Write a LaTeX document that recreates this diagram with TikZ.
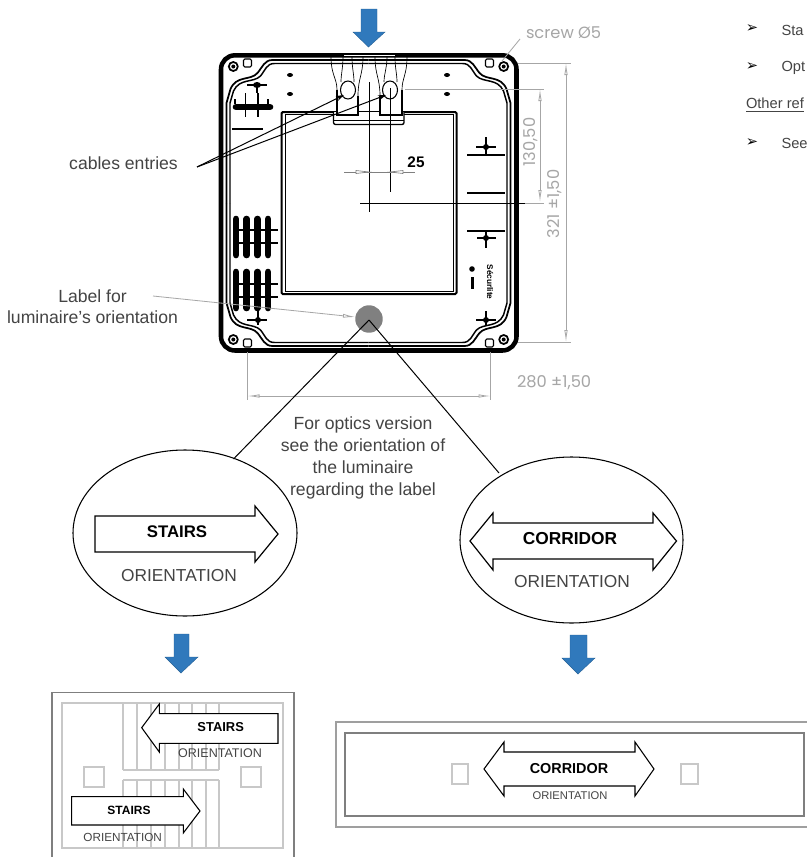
\documentclass[tikz,border=0pt]{standalone}
\usepackage{fontspec}
\setmainfont{Liberation Sans}
\newfontfamily\dimfont{Poppins}
\newfontfamily\symfont{DejaVu Sans}
\usetikzlibrary{arrows.meta,shapes.geometric}
\definecolor{bluearrow}{HTML}{3079BC}
\definecolor{dimgray}{HTML}{A6A6A6}
\definecolor{txtgray}{HTML}{444444}
\definecolor{planlight}{HTML}{C8C8C8}
\definecolor{framegray}{HTML}{7F7F7F}
\tikzset{
 every node/.style={inner sep=0pt,outer sep=0pt},
 lbl/.style={font=\fontsize{13.2}{16.5}\selectfont,text=txtgray,align=center},
 dimtxt/.style={font=\dimfont\fontsize{12.2}{14}\selectfont,text=dimgray},
 boldlbl/.style={font=\bfseries\fontsize{#1}{#1}\selectfont,text=black},
 orient/.style={font=\fontsize{#1}{#1}\selectfont,text=txtgray},
 dimline/.style={draw=dimgray,line width=0.6pt},
 dimarrow/.style={dimline,{Latex[open,length=9pt,width=2.6pt]}-{Latex[open,length=9pt,width=2.6pt]}},
 blackline/.style={draw=black,line width=0.75pt},
 orarrow/.style={draw=black,line width=0.9pt,fill=white,line join=miter},
 bluearr/.style={fill=bluearrow,draw=bluearrow!80!black,line width=0.3pt},
 planline/.style={draw=planlight,line width=1.4pt},
 slotbar/.style={line width=5pt,line cap=round,draw=black},
 tmark/.style={line width=1.8pt,draw=black},
 rightline/.style={font=\fontsize{11}{13}\selectfont,text=txtgray,anchor=west},
 bullet/.style={font=\symfont\fontsize{11}{12}\selectfont},
}
\begin{document}
\begin{tikzpicture}[x=0.75pt,y=-0.75pt]
\path[use as bounding box,clip] (0,0) rectangle (807,857);
\fill[white] (0,0) rectangle (807,857);

% top blue arrow
\fill[bluearr] (361,9) -- (377,9) -- (377,32) -- (385,32) -- (368.5,47) -- (353,32) -- (361,32) -- cycle;

% housing
\draw[line width=3.4pt,rounded corners=10.5pt] (221,55.3) rectangle (516.5,350.5);
\foreach \sx/\sy in {1/1,-1/1,1/-1,-1/-1}{
\begin{scope}[shift={(368.5,203)},xscale=\sx,yscale=\sy]
 \draw[line width=1.3pt] (0,-143) -- (-96,-143) .. controls (-104,-143) and (-106,-136) .. (-111,-130) .. controls (-118,-122) and (-132,-128) .. (-138,-114) -- (-142,-100) -- (-142,0);
 \draw[line width=1.1pt] (0,-139.5) -- (-94,-139.5) .. controls (-102,-139.5) and (-103,-133) .. (-108,-127) .. controls (-115,-120) and (-129,-125) .. (-135,-112) -- (-138.5,-100) -- (-138.5,0);
 \draw[line width=1.3pt,fill=white] (-135.2,-136.5) circle[radius=4.5];
 \fill (-135.2,-136.5) circle[radius=2];
 \draw[line width=0.8pt,rounded corners=1pt] (-125,-144) rectangle (-117,-136);
\end{scope}}
\fill[white] (344,54.5) rectangle (395,56);

% window
\draw[line width=1.5pt,rounded corners=1pt] (281.5,112) rectangle (456.5,294);
\draw[line width=0.5pt] (285,114) rectangle (453,291);
\draw[line width=1pt,fill=white,rounded corners=1.5pt] (333.5,112) -- (333.5,124.5) -- (404,124.5) -- (404,112);
\draw[line width=0.5pt] (334,120) -- (404,120);
\fill[white] (338,110) rectangle (357,119);
\fill[white] (381,110) rectangle (401,119);

% cable funnels and holes
\draw[line width=0.5pt] (331,57) .. controls (331,75) and (337,78) .. (337,90);
\draw[line width=0.5pt] (343,57) .. controls (343,68) and (341,74) .. (341,82);
\draw[line width=0.5pt] (352,57) .. controls (352,68) and (354,74) .. (354,82);
\draw[line width=0.5pt] (363,57) .. controls (363,75) and (358,78) .. (358,96);
\draw[line width=0.5pt] (375,57) .. controls (375,75) and (380,78) .. (380,96);
\draw[line width=0.5pt] (387,57) .. controls (387,68) and (384,74) .. (384,82);
\draw[line width=0.5pt] (395,57) .. controls (395,68) and (397,74) .. (397,82);
\draw[line width=0.5pt] (407,57) .. controls (407,75) and (402,78) .. (402,90);
\draw[line width=0.8pt] (337,90) -- (337,115) -- (358,115) -- (358,96);
\draw[line width=0.8pt] (380,96) -- (380,115) -- (402,115) -- (402,90);
\draw[line width=0.8pt] (348,90) ellipse[x radius=7.5,y radius=9];
\draw[line width=0.8pt] (390,90) ellipse[x radius=7.5,y radius=9];

% small oval dots
\foreach \px/\py in {290/75,290/94,447/75,447/94}
 \fill (\px,\py) ellipse[x radius=3,y radius=2];

% top-left marks
\draw[tmark] (247,85) -- (267,85);
\draw[tmark] (257,85) -- (257,93);
\fill (257,85) ellipse[x radius=4,y radius=3];
\draw[slotbar] (236,107) -- (270,107);
\draw[line width=1pt] (245.7,93) -- (245.7,117);
\draw[line width=1pt] (258,93) -- (258,117);
\draw[line width=1pt] (235,99) -- (235,104);
\draw[line width=1pt] (268,99) -- (268,104);
\draw[tmark] (232,129) -- (263,129);

% right marks
\draw[tmark] (476,147) -- (496,147);
\draw[tmark] (486,137) -- (486,155);
\fill (486,147) circle[radius=3];
\draw[line width=2.2pt] (467,155) -- (505,155);
\draw[line width=2.2pt] (467,193) -- (505,193);
\draw[line width=2.2pt] (467,231) -- (505,231);
\draw[tmark] (477,238) -- (496,238);
\draw[tmark] (486,231) -- (486,248);
\fill (486,238) circle[radius=3];
\draw[tmark] (476,320) -- (496,320);
\draw[tmark] (486,311) -- (486,325);
\fill (486,320) circle[radius=3];
\fill (472,269) circle[radius=2.8];
\fill (470.5,277) rectangle (473.5,289);
\node[rotate=-90,font=\bfseries\fontsize{6.2}{7}\selectfont] (brand) at (490,282) {Sécurlite};

% left slots
\foreach \oy/\oz in {219/255,272/308}{
 \foreach \ox in {236,246.7,257.3,268}
  \draw[slotbar] (\ox,\oy) -- (\ox,\oz);
}
\foreach \ly in {230,243,284,297}
 \draw[line width=0.9pt] (233,\ly) -- (278,\ly);
\draw[tmark] (247,320) -- (267,320);
\draw[tmark] (258,311) -- (258,325);
\fill (258,320) circle[radius=3];

% centre lines and 25 dimension
\draw[blackline] (369,82) -- (369,212);
\draw[blackline] (390,88) -- (390,192);
\draw[blackline] (360,203) -- (525,203);
\draw[dimline] (525,203) -- (544,203);
\coordinate (d25l) at (344,172);
\coordinate (d25r) at (415,172);
\draw[dimline,draw=gray] (d25l) -- (d25r);
\draw[gray,line width=0.5pt,fill=white] (356,170.5) -- (369,172) -- (356,173.5) -- cycle;
\draw[gray,line width=0.5pt,fill=white] (403,170.5) -- (390,172) -- (403,173.5) -- cycle;
\node[font=\bfseries\fontsize{11.5}{12}\selectfont] (n25) at (416,162) {25};

% gray dimension lines
\coordinate (scrEnd) at (502,61);
\node[dimtxt,anchor=west] (screw) at (526,33) {screw Ø5};
\draw[dimline] (520,39) -- (scrEnd);
\coordinate (a1) at (518,63); \coordinate (a2) at (571,63);
\coordinate (b1) at (518,342); \coordinate (b2) at (571,342);
\draw[dimline] (a1) -- (a2);
\draw[dimline] (b1) -- (b2);
\coordinate (v1t) at (566,63); \coordinate (v1b) at (566,342);
\draw[dimarrow] (v1t) -- (v1b);
\coordinate (c1) at (405,89); \coordinate (c2) at (544,89);
\draw[dimline] (c1) -- (c2);
\coordinate (v2t) at (540,89); \coordinate (v2b) at (540,202);
\draw[dimarrow] (v2t) -- (v2b);
\node[dimtxt,rotate=90] (d130) at (530.7,142) {130,50};
\node[dimtxt,rotate=90] (d321) at (555,204) {321 ±1,50};
\coordinate (e1) at (247.5,352); \coordinate (e1b) at (247.5,400);
\coordinate (e2) at (490.5,352); \coordinate (e2b) at (490.5,400);
\draw[dimline] (e1) -- (e1b);
\draw[dimline] (e2) -- (e2b);
\coordinate (h1) at (247.5,396); \coordinate (h2) at (490.5,396);
\draw[dimarrow] (h1) -- (h2);
\node[dimtxt,anchor=west] (d280) at (517,383) {280 ±1,50};

% labels
\node[lbl] (cables) at (123.5,163) {cables entries};
\coordinate (cabl) at (197,167);
\coordinate (hole1) at (344,95);
\coordinate (hole2) at (386,95);
\draw[blackline,-{Stealth[length=6pt,width=4pt]}] (cabl) -- (hole1);
\draw[blackline,-{Stealth[length=6pt,width=4pt]}] (cabl) -- (hole2);
\node[lbl] (labelfor) at (92.5,296) {Label for};
\node[lbl] (lumor) at (92.5,317) {luminaire’s orientation};
\coordinate (lblstart) at (153,296);
\node[circle,fill=gray,minimum size=20.6pt] (dot) at (369,319) {};
\coordinate (dotl) at (355,317);
\draw[dimline,-{Latex[open,length=9pt,width=3pt]}] (lblstart) -- (dotl);
\node[lbl] (forop) at (363,458) {For optics version\\see the orientation of\\the luminaire\\regarding the label};

% circles and connectors
\node[ellipse,draw=black,line width=0.8pt,minimum width=168pt,minimum height=124.5pt] (ellS) at (185,533) {};
\node[ellipse,draw=black,line width=0.8pt,minimum width=167.25pt,minimum height=124.5pt] (ellC) at (571.5,540) {};
\coordinate (dotc) at (369,320);
\draw[blackline] (dotc) -- (233.5,459);
\draw[blackline] (dotc) -- (499,473);

% stairs arrow in ellipse
\draw[orarrow] (95,516) -- (255,516) -- (255,506) -- (278,534) -- (255,562) -- (255,552) -- (95,552) -- cycle;
\node[boldlbl=12.6] (t1) at (177,532) {STAIRS};
\node[orient=13] (o1) at (179,576) {ORIENTATION};
% corridor arrow in ellipse
\draw[orarrow] (470,541) -- (493,513) -- (493,523) -- (653,523) -- (653,513) -- (676.5,541) -- (653,570) -- (653,559) -- (493,559) -- (493,570) -- cycle;
\node[boldlbl=13] (t2) at (570,539) {CORRIDOR};
\node[orient=13] (o2) at (572,582) {ORIENTATION};

% blue arrows
\fill[bluearr] (174,634) -- (189,634) -- (189,657) -- (198,657) -- (181,673) -- (165,657) -- (174,657) -- cycle;
\fill[bluearr] (570,635) -- (587,635) -- (587,658) -- (595,658) -- (578,674) -- (562,658) -- (570,658) -- cycle;

% stairs plan
\draw[framegray,line width=1.1pt] (52,692.5) rectangle (294,870);
\draw[planline] (62,703) rectangle (283,848);
\foreach \vx in {123.3,137,150.7,164.7,178.7,192.3,206.3,219.3}{
 \draw[planline] (\vx,703) -- (\vx,770);
 \draw[planline] (\vx,780) -- (\vx,848);
}
\draw[planline] (123.3,770) -- (219.3,770);
\draw[planline] (123.3,780) -- (219.3,780);
\draw[planline] (84,767) rectangle (104,787);
\draw[planline] (241,767) rectangle (261,787);
\draw[orarrow,line width=0.8pt,fill=white] (278,713.7) -- (159.3,713.7) -- (159.3,704) -- (141.7,727.7) -- (159.3,752) -- (159.3,743.3) -- (278,743.3) -- cycle;
\node[boldlbl=9.7] (t3) at (220.7,727) {STAIRS};
\node[orient=9.4] (o3) at (220,753) {ORIENTATION};
\draw[orarrow,line width=0.8pt,fill=white] (71.7,796.7) -- (183.3,796.7) -- (183.3,789) -- (200,811) -- (183.3,833) -- (183.3,825) -- (71.7,825) -- cycle;
\node[boldlbl=9] (t4) at (129,810) {STAIRS};
\node[orient=8.8] (o4) at (122.7,837) {ORIENTATION};

% corridor plan
\draw[framegray!75,line width=1.1pt] (336,722) rectangle (815,827);
\draw[framegray,line width=1.1pt] (345,733) rectangle (804,816);
\draw[planline] (452,764) rectangle (468,784);
\draw[planline] (681,764) rectangle (698,784);
\draw[orarrow,line width=0.8pt] (484,769) -- (504,742) -- (504,752) -- (635,752) -- (635,742) -- (654,769) -- (635,796) -- (635,786) -- (504,786) -- (504,796) -- cycle;
\node[boldlbl=10.8] (t5) at (569,769) {CORRIDOR};
\node[orient=8.4] (o5) at (570,796) {ORIENTATION};

% clipped text on the right
\node[bullet] (b1n) at (752,29) {➢};
\node[bullet] (b2n) at (752,67) {➢};
\node[bullet] (b3n) at (752,143) {➢};
\node[rightline] (r1) at (781.5,30) {Sta};
\node[rightline] (r2) at (781.5,68) {Opt};
\node[rightline] (r3) at (746,105) {\underline{Other ref}};
\node[rightline] (r4) at (781.5,143) {See};
\end{tikzpicture}
\end{document}
